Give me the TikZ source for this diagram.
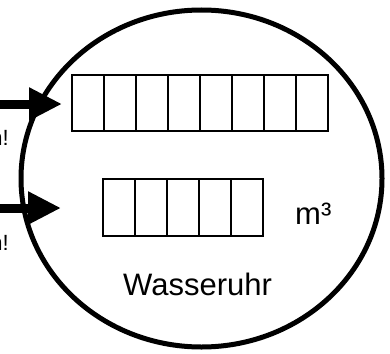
\documentclass[tikz,border=0pt]{standalone}
\usepackage{fontspec}
\setmainfont{Liberation Sans}
\usetikzlibrary{shapes.geometric,arrows.meta}
\begin{document}
\begin{tikzpicture}[x=1pt,y=-1pt,
  cell/.style={draw, line width=1.7pt, minimum width=32pt, minimum height=56pt, inner sep=0pt, outer sep=0pt},
  bigarrow/.style={line width=9pt, -{Triangle[length=33pt,width=31pt]}},
  label/.style={inner sep=0pt, anchor=base west, font=\fontsize{31}{36}\selectfont},
  cut/.style={inner sep=0pt, anchor=base east, font=\fontsize{22}{26}\selectfont}]
\useasboundingbox[fill=white] (0,0) rectangle (390,353);
\node[draw, ellipse, line width=5pt, minimum width=361pt, minimum height=337pt, inner sep=0pt] (meter) at (201.5,178.5) {};
\foreach \i in {1,...,8} {
  \node[cell] (t\i) at ({71.7+16+32.04*(\i-1)},103) {};
}
\foreach \i in {1,...,5} {
  \node[cell, minimum height=57pt] (b\i) at ({103+16+32*(\i-1)},207.5) {};
}
\node[label] (unit) at (295,224) {m³};
\node[label] (name) at (123,295) {Wasseruhr};
\node[cut] (c1) at (9,145) {n!};
\node[cut] (c2) at (9,250) {n!};
\coordinate (a1s) at (-2,104);
\coordinate (a1e) at (62,104);
\coordinate (a2s) at (-2,208);
\coordinate (a2e) at (61,208);
\draw[bigarrow] (a1s) -- (a1e);
\draw[bigarrow] (a2s) -- (a2e);
\end{tikzpicture}
\end{document}
